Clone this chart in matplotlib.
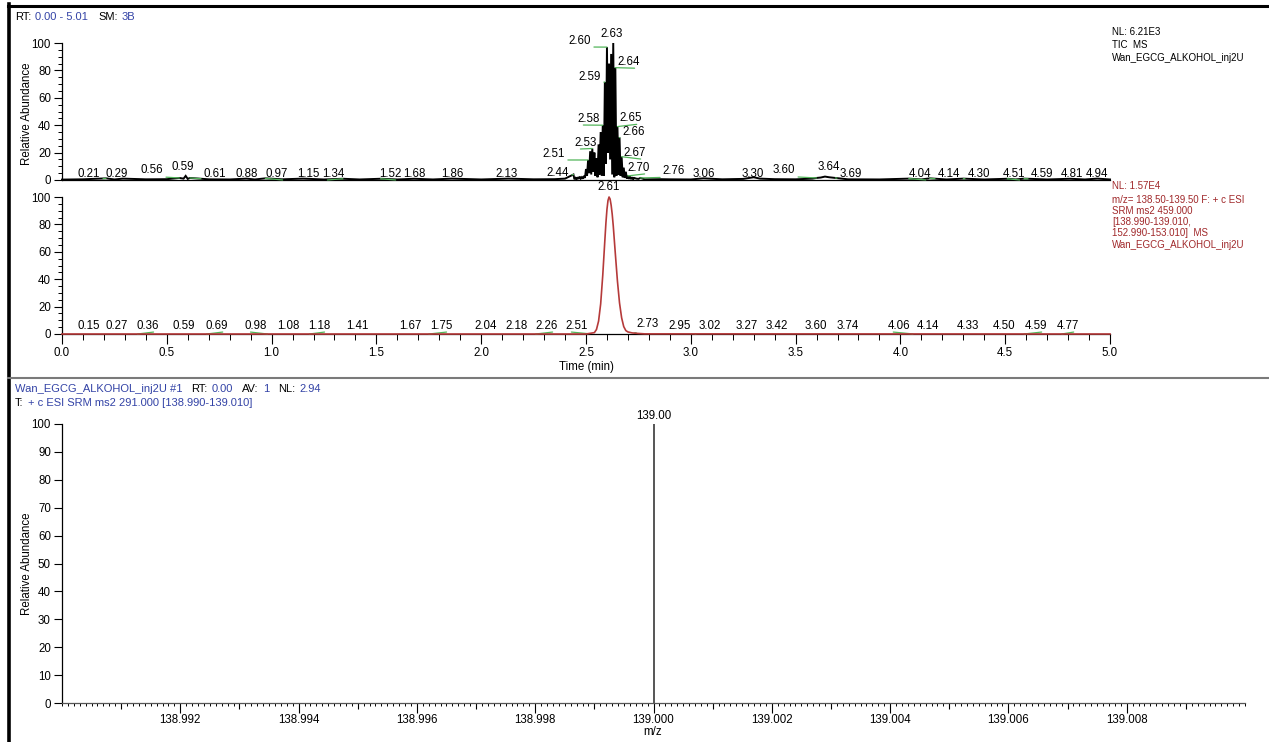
# -*- coding: utf-8 -*-
'''Cromatograma TIC / SRM y espectro de masas (estilo Xcalibur)'''
import numpy as np
import matplotlib
matplotlib.use('Agg')
import matplotlib.pyplot as plt
from matplotlib.lines import Line2D
from matplotlib.ticker import MultipleLocator, FixedLocator, FuncFormatter

plt.rcParams['font.family'] = ['Liberation Sans', 'DejaVu Sans']

#%%
# TIC (panel superior): tiempo (min) e intensidad relativa (%)
tic_t = [0.00, 0.10, 0.21, 0.25, 0.29, 0.40, 0.50, 0.56, 0.58, 0.59, 0.60, 0.61,
         0.70, 0.80, 0.88, 0.92, 0.97, 1.05, 1.15, 1.25, 1.34, 1.42, 1.52, 1.60,
         1.68, 1.77, 1.86, 2.00, 2.13, 2.25, 2.35, 2.40,
         2.440, 2.445, 2.450, 2.455, 2.460, 2.465, 2.470, 2.475, 2.480, 2.485, 2.490, 2.495,
         2.500, 2.505, 2.510, 2.515, 2.520, 2.525, 2.530, 2.535, 2.540, 2.545,
         2.550, 2.555, 2.560, 2.565, 2.570, 2.575, 2.580, 2.585, 2.590, 2.595,
         2.600, 2.605, 2.610, 2.615, 2.620, 2.625, 2.630, 2.635, 2.640, 2.645,
         2.650, 2.655, 2.660, 2.665, 2.670, 2.675, 2.680, 2.685, 2.690, 2.695,
         2.700, 2.705, 2.710, 2.715, 2.720, 2.725, 2.730, 2.740, 2.750, 2.760, 2.780,
         2.85, 2.90, 3.00, 3.06, 3.15, 3.25, 3.28, 3.30, 3.33, 3.40, 3.50, 3.58,
         3.60, 3.62, 3.64, 3.66, 3.69, 3.75, 3.90, 4.04, 4.10, 4.14, 4.22, 4.30,
         4.40, 4.51, 4.55, 4.59, 4.70, 4.81, 4.88, 4.94, 5.00]
tic_i = [0.3, 0.5, 1.2, 0.4, 1.0, 0.5, 0.6, 1.5, 1.0, 3.0, 0.8, 1.5,
         0.5, 0.4, 1.0, 0.4, 1.2, 0.5, 1.0, 0.4, 0.9, 0.4, 0.9, 0.4,
         0.9, 0.4, 1.0, 0.4, 1.0, 0.5, 0.6, 1.0,
         4.0, 0.5, 1.5, 0.5, 2.0, 0.8, 2.5, 1.0, 2.0, 1.0, 3.0, 1.5,
         8.0, 3.0, 14.6, 5.0, 21.0, 4.0, 23.0, 6.0, 20.0, 3.0,
         16.0, 2.0, 26.0, 4.0, 35.0, 3.0, 40.0, 3.0, 71.5, 12.0,
         97.0, 20.0, 85.0, 15.0, 92.0, 4.0, 100.0, 2.0, 82.0, 3.0,
         39.0, 4.0, 31.0, 3.0, 17.0, 2.0, 9.0, 1.5, 6.0, 1.0,
         3.0, 0.8, 2.5, 0.6, 2.0, 0.5, 1.5, 1.0, 0.8, 1.5, 0.5,
         0.6, 0.5, 0.4, 1.2, 0.5, 0.8, 1.5, 2.0, 1.0, 0.6, 0.5, 1.0,
         1.5, 1.8, 2.5, 2.0, 1.5, 0.5, 0.4, 1.0, 0.4, 1.2, 0.4, 1.0,
         0.4, 0.9, 0.4, 1.0, 0.4, 0.9, 0.4, 1.0, 0.4]

# etiquetas de picos del TIC
tic_rt = [0.21, 0.29, 0.56, 0.59, 0.61, 0.88, 0.97, 1.15, 1.34, 1.52, 1.68, 1.86,
          2.13, 2.44, 2.51, 2.53, 2.58, 2.59, 2.60, 2.63, 2.64, 2.65, 2.66, 2.67,
          2.70, 2.76, 3.06, 3.30, 3.60, 3.64, 3.69, 4.04, 4.14, 4.30, 4.51, 4.59,
          4.81, 4.94]
# posicion de cada texto (min, %)
tic_etq_x = [0.129, 0.262, 0.429, 0.577, 0.730, 0.883, 1.026, 1.174, 1.293, 1.565, 1.679, 1.861,
             2.123, 2.366, 2.347, 2.500, 2.514, 2.519, 2.471, 2.624, 2.705, 2.715, 2.729, 2.734,
             2.753, 2.920, 3.063, 3.297, 3.445, 3.659, 3.764, 4.094, 4.232, 4.375, 4.542, 4.676,
             4.819, 4.938]
tic_etq_y = [4.4, 4.4, 7.3, 9.5, 4.4, 4.4, 4.4, 4.4, 4.4, 4.4, 4.4, 4.4,
             4.4, 5.0, 19.0, 27.0, 44.5, 75.0, 101.5, 106.5, 86.0, 45.0, 35.0, 19.7,
             8.8, 6.6, 4.4, 4.4, 7.3, 9.5, 4.4, 4.4, 4.4, 4.4, 4.4, 4.4,
             4.4, 4.4]

# SRM m/z 138.50-139.50 (panel del medio)
srm_t = [0.00, 2.50, 2.54, 2.55, 2.56, 2.57, 2.58, 2.59, 2.595, 2.60, 2.605, 2.61,
         2.615, 2.62, 2.625, 2.63, 2.64, 2.65, 2.66, 2.67, 2.68, 2.69, 2.70, 2.72,
         2.75, 2.78, 5.00]
srm_i = [0.0, 0.0, 1.0, 3.3, 9.4, 22.0, 43.0, 68.5, 81.0, 91.0, 97.5, 100.0,
         98.5, 94.0, 87.5, 79.0, 58.5, 38.6, 22.6, 11.8, 5.4, 2.5, 1.5, 0.8,
         0.4, 0.1, 0.0]

srm_rt = [0.15, 0.27, 0.36, 0.59, 0.69, 0.98, 1.08, 1.18, 1.41, 1.67, 1.75, 2.04,
          2.18, 2.26, 2.51, 2.61, 2.73, 2.95, 3.02, 3.27, 3.42, 3.60, 3.74, 4.06,
          4.14, 4.33, 4.50, 4.59, 4.77]
srm_etq_x = [0.129, 0.262, 0.410, 0.582, 0.740, 0.926, 1.078, 1.226, 1.407, 1.660, 1.808, 2.023,
             2.171, 2.314, 2.457, 2.610, 2.796, 2.948, 3.092, 3.268, 3.411, 3.597, 3.750, 3.993,
             4.132, 4.323, 4.494, 4.647, 4.800]
srm_etq_y = [5.8] * 15 + [107.0, 7.3] + [5.8] * 12

# espectro (panel inferior)
mz_pico = [139.000]
ab_pico = [100.0]
mz_ticks = [138.992, 138.994, 138.996, 138.998, 139.000, 139.002, 139.004, 139.006, 139.008]
mz_ticks_med = [138.991, 138.993, 138.995, 138.997, 138.999, 139.001, 139.003,
                139.005, 139.007, 139.009]

#%%
W, H = 1269, 742
AZUL = '#3343a6'
ROJO_T = '#a0282a'
ROJO = '#b53a3a'
VERDE = '#52b55a'
FS = 8.3


def caja(x0, y0, x1, y1):
    '''rectangulo en pixeles -> coordenadas de figura'''
    return [x0 / W, 1 - y1 / H, (x1 - x0) / W, (y1 - y0) / H]


def texto(fig, x, y, s, **kw):
    return fig.text(x / W, 1 - y / H, s, **kw)


def texto_color(fig, x, y, partes, size=8):
    '''texto con tramos de distinto color, uno detras de otro'''
    ren = fig.canvas.get_renderer()
    for s, c, hueco in partes:
        t = fig.text(x / W, 1 - y / H, s, color=c, fontsize=size, va='center', ha='left')
        x += t.get_window_extent(renderer=ren).width + hueco


def etiquetar(ax, rts, tx, ty, t, y):
    for rt, lx, ly in zip(rts, tx, ty):
        h = np.interp(rt, t, y)
        s = '%.2f' % rt
        if abs(lx - rt) > 0.029:
            rel = (0.25, 0) if lx < rt else (0.75, 0)
            ax.annotate(s, xy=(rt, h), xytext=(lx, ly), ha='center', va='center',
                        fontsize=FS, annotation_clip=False,
                        arrowprops=dict(arrowstyle='-', color=VERDE, lw=0.9,
                                        relpos=rel, shrinkA=0, shrinkB=0))
        else:
            ax.text(lx, ly, s, ha='center', va='center', fontsize=FS)


def ejes_base(ax):
    for lado in ['top', 'right']:
        ax.spines[lado].set_visible(False)
    for lado in ['left', 'bottom']:
        ax.spines[lado].set_linewidth(0.9)
    ax.tick_params(labelsize=FS, width=0.8, length=6, pad=2)
    ax.tick_params(which='minor', width=0.7, length=3)


fig = plt.figure(figsize=(W / 100, H / 100), dpi=100)

# marco
fig.add_artist(Line2D([9 / W, 9 / W], [0, 1 - 4 / H], color='black', lw=2.6))
fig.add_artist(Line2D([8 / W, 1], [1 - 5.5 / H] * 2, color='black', lw=2.2))
fig.add_artist(Line2D([8 / W, 1], [1 - 378 / H] * 2, color='#7a7a7a', lw=1.5))

#%%
# panel superior: TIC
ax1 = fig.add_axes(caja(62, 43, 1110, 180))
ejes_base(ax1)
ax1.plot(tic_t, tic_i, color='black', lw=1.4, clip_on=False, solid_joinstyle='miter')
ax1.set_xlim(0, 5.0)
ax1.set_ylim(0, 100)
ax1.set_yticks([0, 20, 40, 60, 80, 100])
ax1.yaxis.set_minor_locator(MultipleLocator(5))
ax1.tick_params(axis='x', which='both', bottom=False, labelbottom=False)
etiquetar(ax1, tic_rt, tic_etq_x, tic_etq_y, tic_t, tic_i)

# panel del medio: SRM
ax2 = fig.add_axes(caja(62, 197, 1110, 334))
ejes_base(ax2)
ax2.plot(srm_t, srm_i, color=ROJO, lw=1.2, clip_on=False, zorder=5)
ax2.set_xlim(0, 5.0)
ax2.set_ylim(0, 100)
ax2.set_yticks([0, 20, 40, 60, 80, 100])
ax2.yaxis.set_minor_locator(MultipleLocator(5))
ax2.set_xticks([0.0, 0.5, 1.0, 1.5, 2.0, 2.5, 3.0, 3.5, 4.0, 4.5, 5.0])
ax2.xaxis.set_minor_locator(MultipleLocator(0.1))
ax2.xaxis.set_major_formatter(FuncFormatter(lambda v, p: '%.1f' % v))
ax2.tick_params(axis='x', which='major', length=7)
ax2.tick_params(axis='x', which='minor', length=4)
ax2.set_xlabel('Time (min)', fontsize=FS, labelpad=2)
etiquetar(ax2, srm_rt, srm_etq_x, srm_etq_y, srm_t, srm_i)

# panel inferior: espectro
ax3 = fig.add_axes(caja(62, 424, 1245, 703))
ejes_base(ax3)
ax3.spines['bottom'].set_color('#555555')
ax3.vlines(mz_pico, 0, ab_pico, color='#555555', lw=1.4)
for m, a in zip(mz_pico, ab_pico):
    ax3.text(m, a + 3, '%.2f' % m, ha='center', va='center', fontsize=FS)
ax3.set_xlim(138.990, 139.010)
ax3.set_ylim(0, 100)
ax3.set_yticks([0, 10, 20, 30, 40, 50, 60, 70, 80, 90, 100])
ax3.xaxis.set_major_locator(FixedLocator(mz_ticks))
ax3.xaxis.set_major_formatter(FuncFormatter(lambda v, p: '%.3f' % v))
ax3.xaxis.set_minor_locator(MultipleLocator(0.0001))
ax3.tick_params(axis='x', which='major', length=7, pad=1)
ax3.tick_params(axis='x', which='minor', length=2.5)
sec = ax3.secondary_xaxis('bottom')
sec.set_xticks(mz_ticks_med)
sec.tick_params(length=4.5, width=0.8, labelbottom=False)
sec.spines['bottom'].set_visible(False)
texto(fig, 653, 732, 'm/z', ha='center', va='center', fontsize=FS)

# etiquetas del eje y
texto(fig, 27, 114, 'Relative Abundance', rotation=90, ha='center', va='center', fontsize=FS)
texto(fig, 27, 564, 'Relative Abundance', rotation=90, ha='center', va='center', fontsize=FS)

#%%
# encabezados
texto_color(fig, 15, 17, [('RT:', 'black', 4), ('0.00 - 5.01', AZUL, 10),
                          ('SM:', 'black', 4), ('3B', AZUL, 0)])

for y, s in zip([32, 45, 58], ['NL: 6.21E3', 'TIC  MS', 'Wan_EGCG_ALKOHOL_inj2U']):
    texto(fig, 1112, y, s, fontsize=7, va='center', ha='left', color='black')

texto(fig, 1112, 186, 'NL: 1.57E4', fontsize=7, va='center', ha='left', color=ROJO_T)
lineas_srm = ['m/z= 138.50-139.50 F: + c ESI', 'SRM ms2 459.000', '[138.990-139.010,',
              '152.990-153.010]  MS', 'Wan_EGCG_ALKOHOL_inj2U']
for y, s in zip([200, 211, 222, 233, 245], lineas_srm):
    texto(fig, 1112, y, s, fontsize=7, va='center', ha='left', color=ROJO_T)

texto_color(fig, 15, 389, [('Wan_EGCG_ALKOHOL_inj2U #1', AZUL, 9), ('RT:', 'black', 4),
                           ('0.00', AZUL, 9), ('AV:', 'black', 4), ('1', AZUL, 9),
                           ('NL:', 'black', 4), ('2.94', AZUL, 0)])
texto_color(fig, 15, 403, [('T:', 'black', 4),
                           ('+ c ESI SRM ms2 291.000 [138.990-139.010]', AZUL, 0)])

fig.savefig('out.png', dpi=100)
